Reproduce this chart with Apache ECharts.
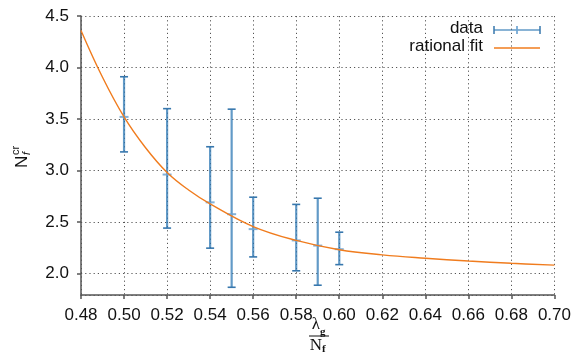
<!DOCTYPE html>
<html>
<head>
<meta charset="utf-8">
<script src="https://cdn.jsdelivr.net/npm/echarts@6/dist/echarts.min.js"></script>
<style>
  html, body { margin: 0; padding: 0; background: #ffffff; }
  #chart { width: 574px; height: 356px; }
</style>
</head>
<body>
<div id="chart"></div>
<script>
// ---------------- data ----------------
let data_x = [0.50, 0.52, 0.54, 0.55, 0.56, 0.58, 0.59, 0.60];
let data_y = [3.52, 2.96, 2.69, 2.575, 2.43, 2.32, 2.27, 2.235];
let data_lo = [3.18, 2.44, 2.245, 1.865, 2.16, 2.025, 1.885, 2.085];
let data_hi = [3.91, 3.60, 3.23, 3.595, 2.74, 2.67, 2.73, 2.40];

let fit_x = [0.48, 0.49, 0.50, 0.51, 0.52, 0.53, 0.54, 0.56, 0.58, 0.60, 0.62, 0.64, 0.66, 0.68, 0.70];
let fit_y = [4.36, 3.905, 3.52, 3.22, 2.98, 2.81, 2.675, 2.455, 2.32, 2.23, 2.18, 2.147, 2.12, 2.098, 2.08];

let font_main = "'Liberation Sans', Arial, sans-serif";
let font_serif = "'Liberation Serif', 'DejaVu Serif', serif";
let bar_color = 'rgba(45,120,180,0.75)';
let cap_color = '#3777ad';
let mid_color = 'rgba(110,165,210,0.85)';
let fit_color = '#f07c1e';
let grid_line = { show: true, lineStyle: { color: '#555', width: 1, type: [1.2, 3] } };

let chart_dom = document.getElementById('chart');
let chart = echarts.init(chart_dom, null, { renderer: 'canvas' });

let err_data = data_x.map(function (x, i) { return [x, data_y[i], data_lo[i], data_hi[i]]; });
let fit_data = fit_x.map(function (x, i) { return [x, fit_y[i]]; });

function render_err(params, api) {
    let x = api.value(0);
    let c = api.coord([x, api.value(1)]);
    let lo = api.coord([x, api.value(2)]);
    let hi = api.coord([x, api.value(3)]);
    let half = 4;
    return {
        type: 'group',
        children: [
            { type: 'line', shape: { x1: lo[0], y1: lo[1], x2: hi[0], y2: hi[1] }, style: { stroke: bar_color, lineWidth: 2.2 } },
            { type: 'line', shape: { x1: lo[0] - half, y1: lo[1], x2: lo[0] + half, y2: lo[1] }, style: { stroke: cap_color, lineWidth: 1.6 } },
            { type: 'line', shape: { x1: hi[0] - half, y1: hi[1], x2: hi[0] + half, y2: hi[1] }, style: { stroke: cap_color, lineWidth: 1.6 } },
            { type: 'line', shape: { x1: c[0] - half - 0.5, y1: c[1], x2: c[0] + half + 0.5, y2: c[1] }, style: { stroke: mid_color, lineWidth: 2 } }
        ]
    };
}

// legend drawn by hand (error bar icon + line icon)
let leg_x1 = 494, leg_x2 = 540, leg_y1 = 30, leg_y2 = 48;
let legend_graphics = [
    { type: 'text', right: 574 - 483, top: leg_y1 - 10, style: { text: 'data', font: '17px ' + font_main, fill: '#111', textAlign: 'right' } },
    { type: 'line', shape: { x1: leg_x1, y1: leg_y1, x2: leg_x2, y2: leg_y1 }, style: { stroke: bar_color, lineWidth: 1.6 } },
    { type: 'line', shape: { x1: leg_x1, y1: leg_y1 - 4, x2: leg_x1, y2: leg_y1 + 4 }, style: { stroke: cap_color, lineWidth: 1.5 } },
    { type: 'line', shape: { x1: leg_x2, y1: leg_y1 - 4, x2: leg_x2, y2: leg_y1 + 4 }, style: { stroke: cap_color, lineWidth: 1.5 } },
    { type: 'line', shape: { x1: (leg_x1 + leg_x2) / 2, y1: leg_y1 - 4, x2: (leg_x1 + leg_x2) / 2, y2: leg_y1 + 4 }, style: { stroke: mid_color, lineWidth: 2 } },
    { type: 'text', right: 574 - 483, top: leg_y2 - 10, style: { text: 'rational fit', font: '17px ' + font_main, fill: '#111', textAlign: 'right' } },
    { type: 'line', shape: { x1: leg_x1, y1: leg_y2, x2: leg_x2, y2: leg_y2 }, style: { stroke: fit_color, lineWidth: 1.5 } }
];

// y axis title: N with sup "cr" and sub "f", rotated
let y_title = {
    type: 'group',
    x: 22, y: 168,
    rotation: Math.PI / 2,
    children: [
        { type: 'text', x: 0, y: 0, style: { text: 'N', font: '17px ' + font_main, fill: '#111', textVerticalAlign: 'middle' } },
        { type: 'text', x: 13, y: -6, style: { text: 'cr', font: '11px ' + font_main, fill: '#111', textVerticalAlign: 'middle' } },
        { type: 'text', x: 13, y: 5, style: { text: 'f', font: 'italic 11px ' + font_main, fill: '#111', textVerticalAlign: 'middle' } }
    ]
};

// x axis title: fraction lambda_g / N_f
let x_title = {
    type: 'group',
    x: 319, y: 336,
    children: [
        { type: 'text', x: 1, y: -3, style: { text: 'λ', font: '17px ' + font_serif, fill: '#111', textAlign: 'right', textVerticalAlign: 'bottom' } },
        { type: 'text', x: 1, y: 2, style: { text: 'g', font: 'bold 11px ' + font_serif, fill: '#111', textAlign: 'left', textVerticalAlign: 'bottom' } },
        { type: 'line', shape: { x1: -10, y1: 0, x2: 10, y2: 0 }, style: { stroke: '#111', lineWidth: 1 } },
        { type: 'text', x: 3, y: 1, style: { text: 'N', font: '17px ' + font_serif, fill: '#111', textAlign: 'right', textVerticalAlign: 'top' } },
        { type: 'text', x: 3, y: 8, style: { text: 'f', font: 'bold 11px ' + font_serif, fill: '#111', textAlign: 'left', textVerticalAlign: 'top' } }
    ]
};

let option = {
    backgroundColor: '#ffffff',
    animation: false,
    grid: { left: 81, right: 16, top: 16, bottom: 61, containLabel: false },
    xAxis: {
        type: 'value',
        min: 0.48,
        max: 0.70,
        interval: 0.02,
        axisLine: { show: true, lineStyle: { color: '#555', width: 1.5 } },
        axisTick: { show: true, length: 4, lineStyle: { color: '#555', width: 1.5 } },
        axisLabel: { margin: 12, fontSize: 17, fontFamily: font_main, color: '#111', formatter: function (v) { return v.toFixed(2); } },
        splitLine: grid_line
    },
    yAxis: {
        type: 'value',
        min: 1.79,
        max: 4.5,
        splitNumber: 5,
        axisLine: { show: true, lineStyle: { color: '#555', width: 1.5 } },
        axisTick: { show: true, length: 4, lineStyle: { color: '#555', width: 1.5 } },
        axisLabel: { margin: 12, fontSize: 17, fontFamily: font_main, color: '#111', showMinLabel: false, formatter: function (v) { return v.toFixed(1); } },
        splitLine: grid_line
    },
    graphic: legend_graphics.concat([y_title, x_title]),
    series: [
        {
            type: 'custom',
            name: 'data',
            renderItem: render_err,
            encode: { x: 0, y: [1, 2, 3] },
            data: err_data,
            z: 2
        },
        {
            type: 'line',
            name: 'rational fit',
            data: fit_data,
            smooth: 0.4,
            showSymbol: false,
            lineStyle: { color: fit_color, width: 1.4 },
            z: 3
        }
    ]
};
chart.setOption(option);
</script>
</body>
</html>
